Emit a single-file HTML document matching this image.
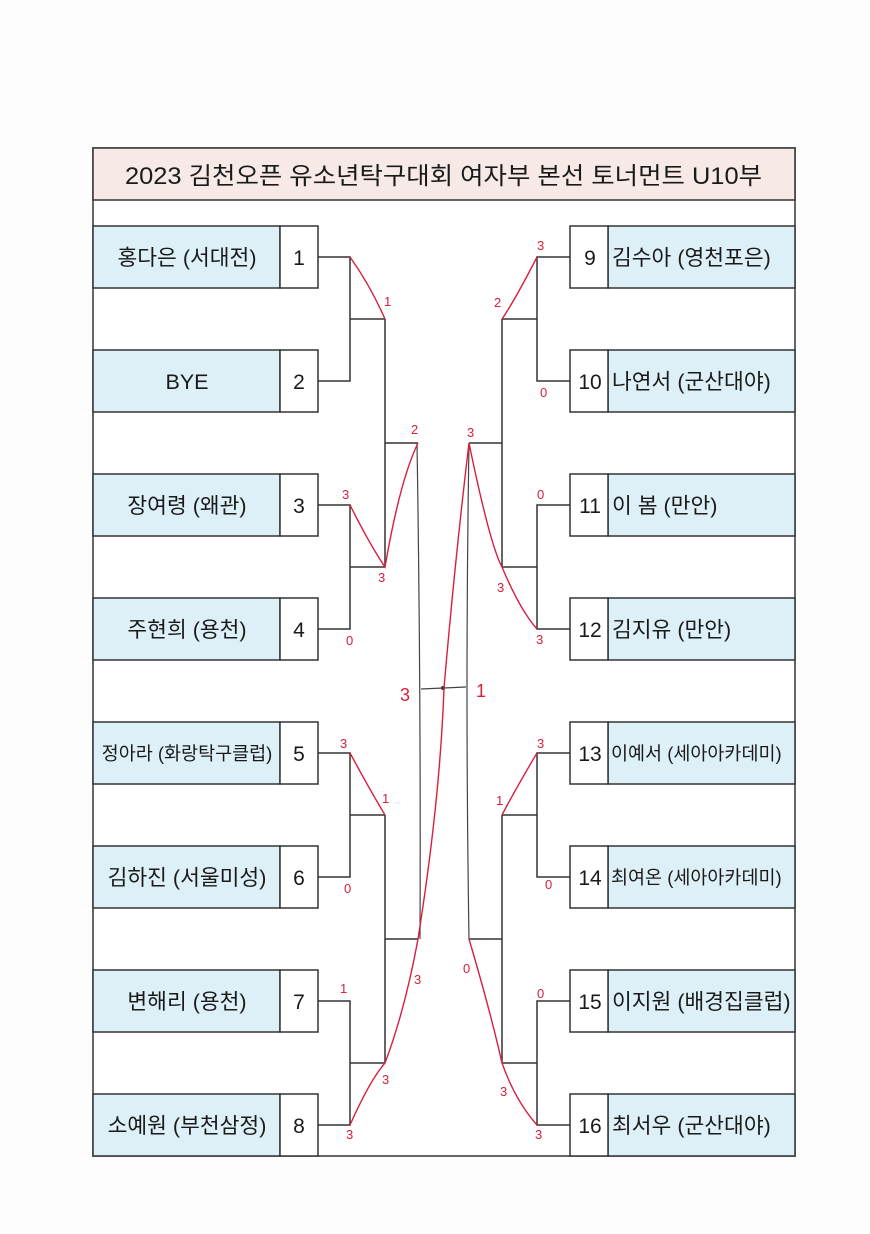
<!DOCTYPE html>
<html><head><meta charset="utf-8">
<style>
html,body{margin:0;padding:0;background:#fdfdfd;}
svg{display:block;}
text{font-family:"Liberation Sans","Noto Sans CJK KR","NanumGothic",sans-serif;}
.nm{font-size:21.5px;fill:#1a1a1a;}
.sm{font-size:18.5px;fill:#1a1a1a;}
.num{font-size:21px;fill:#1a1a1a;}
.r{fill:#d8203a;font-size:13px;font-family:"Liberation Sans",sans-serif;}
</style></head><body>
<svg width="870" height="1234" viewBox="0 0 870 1234" xmlns="http://www.w3.org/2000/svg">
<rect x="0" y="0" width="870" height="1234" fill="#fdfdfd"/>
<rect x="93" y="148" width="702" height="1008" fill="#fff" stroke="#333" stroke-width="1.5"/>
<rect x="93" y="148" width="702" height="52" fill="#f6e9e6" stroke="#333" stroke-width="1.5"/>
<text x="125" y="184" textLength="637" lengthAdjust="spacingAndGlyphs" style="font-size:24px;fill:#1a1a1a">2023 김천오픈 유소년탁구대회 여자부 본선 토너먼트 U10부</text>
<g stroke="#333" stroke-width="1.5">
<g fill="#ddf0f7">
<rect x="93" y="226" width="187" height="62"/><rect x="93" y="350" width="187" height="62"/>
<rect x="93" y="474" width="187" height="62"/><rect x="93" y="598" width="187" height="62"/>
<rect x="93" y="722" width="187" height="62"/><rect x="93" y="846" width="187" height="62"/>
<rect x="93" y="970" width="187" height="62"/><rect x="93" y="1094" width="187" height="62"/>
<rect x="608" y="226" width="187" height="62"/><rect x="608" y="350" width="187" height="62"/>
<rect x="608" y="474" width="187" height="62"/><rect x="608" y="598" width="187" height="62"/>
<rect x="608" y="722" width="187" height="62"/><rect x="608" y="846" width="187" height="62"/>
<rect x="608" y="970" width="187" height="62"/><rect x="608" y="1094" width="187" height="62"/>
</g>
<g fill="#fff">
<rect x="280" y="226" width="38" height="62"/><rect x="280" y="350" width="38" height="62"/>
<rect x="280" y="474" width="38" height="62"/><rect x="280" y="598" width="38" height="62"/>
<rect x="280" y="722" width="38" height="62"/><rect x="280" y="846" width="38" height="62"/>
<rect x="280" y="970" width="38" height="62"/><rect x="280" y="1094" width="38" height="62"/>
<rect x="570" y="226" width="38" height="62"/><rect x="570" y="350" width="38" height="62"/>
<rect x="570" y="474" width="38" height="62"/><rect x="570" y="598" width="38" height="62"/>
<rect x="570" y="722" width="38" height="62"/><rect x="570" y="846" width="38" height="62"/>
<rect x="570" y="970" width="38" height="62"/><rect x="570" y="1094" width="38" height="62"/>
</g>
<path fill="none" d="M318 257H350V381H318 M350 319H385 M318 505H350V629H318 M350 567H385 M385 319V567 M385 443H418
M318 753H350V877H318 M350 815H385 M318 1001H350V1125H318 M350 1063H385 M385 815V1063 M385 939H418"/>
<path fill="none" d="M570 257H537V381H570 M537 319H502 M570 505H537V629H570 M537 567H502 M502 319V567 M502 443H469
M570 753H537V877H570 M537 815H502 M570 1001H537V1125H570 M537 1063H502 M502 815V1063 M502 939H469"/>
</g>
<g stroke="#444" stroke-width="1.2" fill="none">
<path d="M417 443 Q421 690 420 939"/>
<path d="M469 443 Q465 690 469 939"/>
<path d="M421 689 L466 687"/>
</g>
<circle cx="443" cy="688" r="2" fill="#333"/>
<g stroke="#d8203a" stroke-width="1.4" fill="none">
<path d="M350 257 Q370 285 385 319"/>
<path d="M350 505 Q370 545 385 567 Q400 480 418 443"/>
<path d="M537 257 Q515 300 502 319"/>
<path d="M469 443 Q490 545 502 567 Q520 610 537 629"/>
<path d="M469 443 Q455 560 444 688 Q440 800 418 939 Q405 1010 385 1063 Q370 1080 350 1125"/>
<path d="M350 753 Q370 790 385 815"/>
<path d="M537 753 Q515 790 502 815"/>
<path d="M469 939 Q490 1010 502 1063 Q515 1100 537 1125"/>
</g>
<g text-anchor="middle">
<text class="nm" x="187" y="265">홍다은 (서대전)</text>
<text class="nm" x="187" y="389">BYE</text>
<text class="nm" x="187" y="513">장여령 (왜관)</text>
<text class="nm" x="187" y="637">주현희 (용천)</text>
<text class="sm" x="187" y="760">정아라 (화랑탁구클럽)</text>
<text class="nm" x="187" y="885">김하진 (서울미성)</text>
<text class="nm" x="187" y="1009">변해리 (용천)</text>
<text class="nm" x="187" y="1133">소예원 (부천삼정)</text>
<text class="num" x="299" y="265">1</text><text class="num" x="299" y="389">2</text>
<text class="num" x="299" y="513">3</text><text class="num" x="299" y="637">4</text>
<text class="num" x="299" y="761">5</text><text class="num" x="299" y="885">6</text>
<text class="num" x="299" y="1009">7</text><text class="num" x="299" y="1133">8</text>
<text class="num" x="590" y="265">9</text><text class="num" x="590" y="389">10</text>
<text class="num" x="590" y="513">11</text><text class="num" x="590" y="637">12</text>
<text class="num" x="590" y="761">13</text><text class="num" x="590" y="885">14</text>
<text class="num" x="590" y="1009">15</text><text class="num" x="590" y="1133">16</text>
</g>
<g>
<text class="nm" x="612" y="265">김수아 (영천포은)</text>
<text class="nm" x="612" y="389">나연서 (군산대야)</text>
<text class="nm" x="612" y="513">이 봄 (만안)</text>
<text class="nm" x="612" y="637">김지유 (만안)</text>
<text class="sm" x="611" y="760">이예서 (세아아카데미)</text>
<text class="sm" x="611" y="884">최여온 (세아아카데미)</text>
<text class="nm" x="612" y="1009">이지원 (배경집클럽)</text>
<text class="nm" x="612" y="1133">최서우 (군산대야)</text>
</g>
<g class="r">
<text x="384" y="306">1</text>
<text x="411" y="434">2</text>
<text x="342" y="499">3</text>
<text x="378" y="582">3</text>
<text x="346" y="645">0</text>
<text x="537" y="250">3</text>
<text x="494" y="307">2</text>
<text x="540" y="397">0</text>
<text x="467" y="437">3</text>
<text x="537" y="499">0</text>
<text x="497" y="592">3</text>
<text x="536" y="644">3</text>
<text x="400" y="701" style="font-size:18px">3</text>
<text x="476" y="697" style="font-size:18px">1</text>
<text x="340" y="748">3</text>
<text x="382" y="803">1</text>
<text x="344" y="893">0</text>
<text x="537" y="748">3</text>
<text x="496" y="805">1</text>
<text x="545" y="889">0</text>
<text x="340" y="993">1</text>
<text x="414" y="984">3</text>
<text x="382" y="1084">3</text>
<text x="346" y="1139">3</text>
<text x="463" y="973">0</text>
<text x="537" y="998">0</text>
<text x="500" y="1096">3</text>
<text x="535" y="1139">3</text>
</g>
</svg>
</body></html>
